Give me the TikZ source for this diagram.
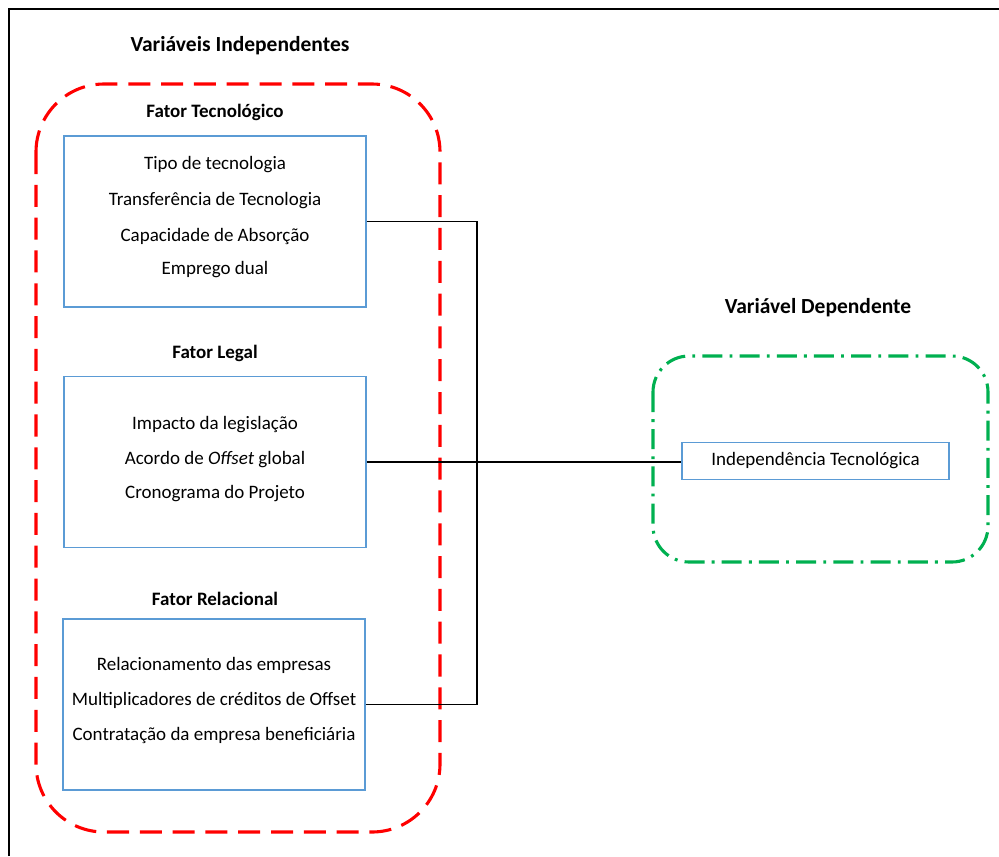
\documentclass[tikz,border=0pt]{standalone}
\usepackage{fontspec}
\setmainfont{Carlito}
\definecolor{boxblue}{RGB}{91,155,213}
\definecolor{grpred}{RGB}{255,0,0}
\definecolor{grpgreen}{RGB}{0,176,80}
\begin{document}
\begin{tikzpicture}[x=0.025cm,y=-0.025cm,
    headline/.style={font=\bfseries\fontsize{15.3}{18}\selectfont},
    factorname/.style={font=\bfseries\fontsize{13.5}{16}\selectfont},
    itemtext/.style={font=\fontsize{13.5}{16}\selectfont},
    factorbox/.style={draw=boxblue,line width=0.9pt,minimum width=7.55cm,minimum height=4.275cm},
    link/.style={draw=black,line width=1.2pt}]

        \useasboundingbox (0,0) rectangle (999,856);
        \draw[line width=1.4pt] (9,856) -- (9,9) -- (999,9);

        % independent side
        \node[headline] (indep) at (240,46) {Variáveis Independentes};
        \draw[grpred,line width=2.2pt,dash pattern=on 0.55cm off 0.27cm,rounded corners=1.7cm]
            (36,84) rectangle (440,832);

        \node[factorname] (techname) at (215,112) {Fator Tecnológico};
        \node[factorbox] (tech) at (215,221.5) {};
        \node[itemtext] (t1) at (215,165) {Tipo de tecnologia};
        \node[itemtext] (t2) at (215,201) {Transferência de Tecnologia};
        \node[itemtext] (t3) at (215,236) {Capacidade de Absorção};
        \node[itemtext] (t4) at (215,270) {Emprego dual};

        \node[factorname] (legname) at (215,353) {Fator Legal};
        \node[factorbox] (legal) at (215,462) {};
        \node[itemtext] (l1) at (215,425) {Impacto da legislação};
        \node[itemtext] (l2) at (215,460) {Acordo de \textit{Offset} global};
        \node[itemtext] (l3) at (215,494) {Cronograma do Projeto};

        \node[factorname] (relname) at (215,599) {Fator Relacional};
        \node[factorbox] (rel) at (214,704.5) {};
        \node[itemtext] (r1) at (214,665) {Relacionamento das empresas};
        \node[itemtext] (r2) at (214,700) {Multiplicadores de créditos de Offset};
        \node[itemtext] (r3) at (214,735) {Contratação da empresa beneficiária};

        % dependent side
        \node[headline] (dep) at (818,308) {Variável Dependente};
        \draw[grpgreen,line width=2.2pt,dash pattern=on 0.5cm off 0.18cm on 0.07cm off 0.18cm,rounded corners=0.9cm]
            (653,356) rectangle (988,562);
        \node[draw=boxblue,line width=0.9pt,minimum width=6.675cm,minimum height=0.925cm,itemtext] (indtec) at (815.5,461) {Independência Tecnológica};

        \coordinate (bus) at (477,0);
        \draw[link] (tech.east) -| (bus |- rel.east) -- (rel.east);
        \draw[link] (legal.east) -- (legal.east -| indtec.west);

        \end{tikzpicture}
\end{document}
